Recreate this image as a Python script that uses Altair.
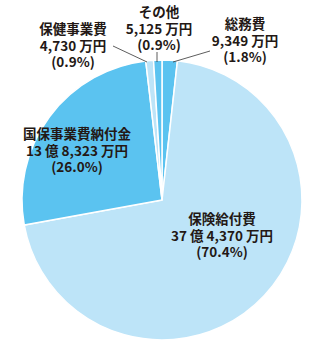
import altair as alt
import pandas as pd

categories = ["総務費", "保険給付費", "国保事業費納付金", "保健事業費", "その他"]
values = [9349, 374370, 138323, 4730, 5125]
amount_labels = ["9,349 万円", "37 億 4,370 万円", "13 億 8,323 万円", "4,730 万円", "5,125 万円"]
pct_labels = ["(1.8%)", "(70.4%)", "(26.0%)", "(0.9%)", "(0.9%)"]
colors = ["#5BC3F0", "#BDE4F8", "#5BC3F0", "#BDE4F8", "#5BC3F0"]

df = pd.DataFrame({
    "cat": categories,
    "value": values,
    "order": list(range(len(categories))),
    "color": colors,
})

CX, CY, R = 162, 200, 140
FONT = "Noto Sans CJK JP"
TXT = "#231815"

pie = alt.Chart(df).mark_arc(outerRadius=R, stroke="white", strokeWidth=1.5).encode(
    theta=alt.Theta("value:Q", stack=True),
    order=alt.Order("order:Q"),
    color=alt.Color("color:N", scale=None),
    x=alt.value(CX),
    y=alt.value(CY),
)

label_pos = {
    "総務費": (245, 25),
    "保険給付費": (222, 220),
    "国保事業費納付金": (77, 135),
    "保健事業費": (73, 30),
    "その他": (159, 13),
}

layers = [pie]
for c, a, p in zip(categories, amount_labels, pct_labels):
    lx, ly = label_pos[c]
    for i, s in enumerate([c, a, p]):
        t = alt.Chart(pd.DataFrame({"t": [s]})).mark_text(
            font=FONT, fontSize=13.5, fontWeight=600, color=TXT, align="center",
            baseline="middle",
        ).encode(text="t:N", x=alt.value(lx), y=alt.value(ly + i * 16.5))
        layers.append(t)

leaders = [
    ((113, 46), (147, 62)),
    ((157, 52), (157, 62)),
    ((210, 51), (173, 62)),
]
for (x1, y1), (x2, y2) in leaders:
    layers.append(
        alt.Chart(pd.DataFrame({"d": [0]})).mark_rule(color="#333333", strokeWidth=0.8).encode(
            x=alt.value(x1), y=alt.value(y1), x2=alt.value(x2), y2=alt.value(y2)
        )
    )

chart = alt.layer(*layers).properties(
    width=311, height=343, autosize=alt.AutoSizeParams(type="none"), padding=0
).configure_view(stroke=None)

chart.save("out.html", embed_options={"renderer": "svg", "actions": False})
